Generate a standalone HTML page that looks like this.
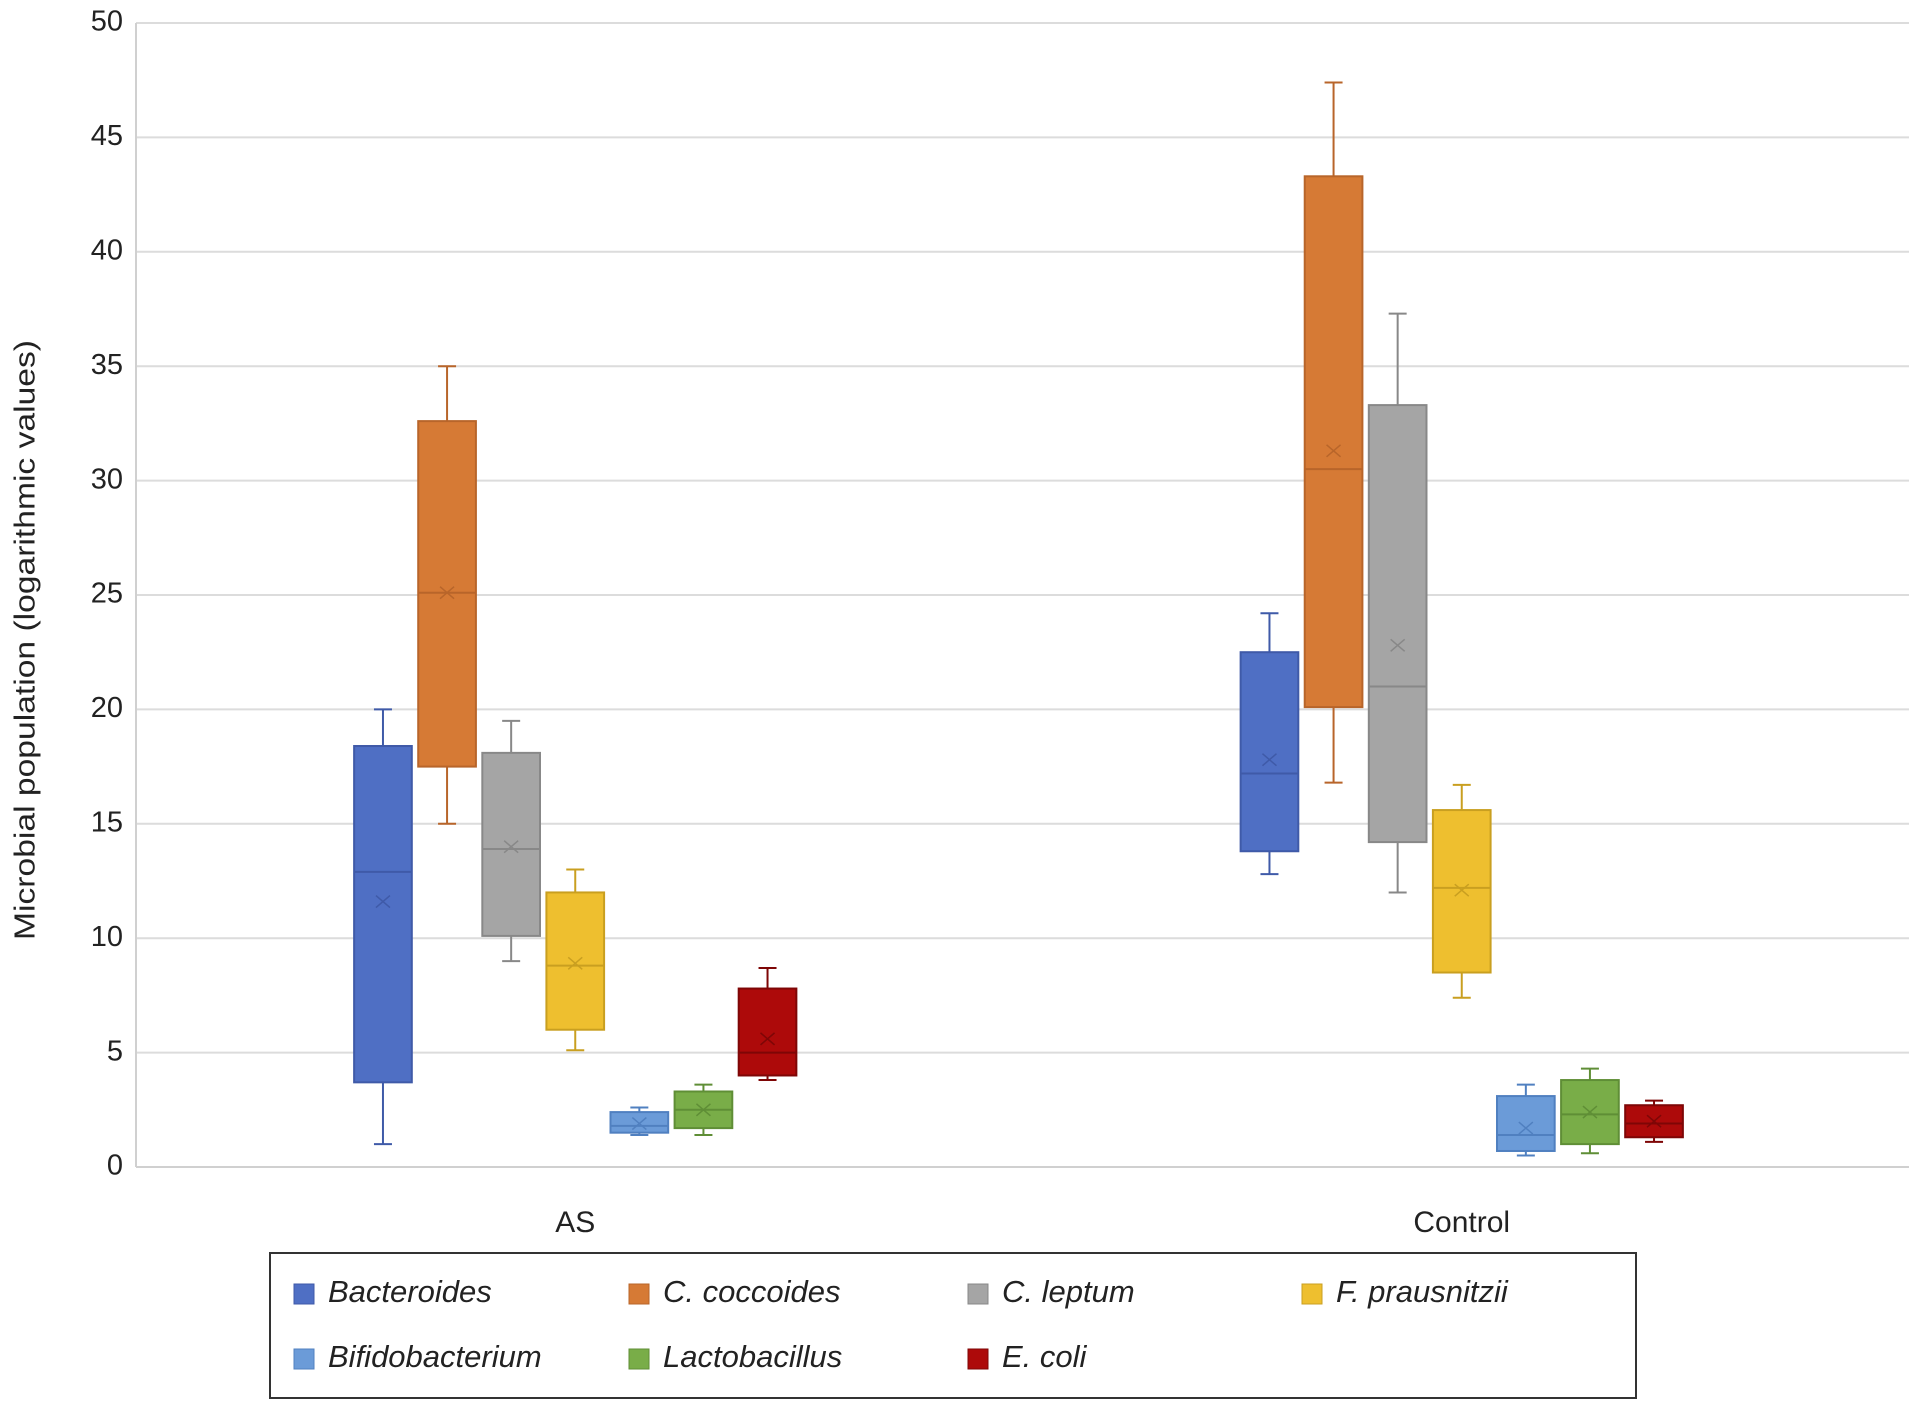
<!DOCTYPE html>
<html><head><meta charset="utf-8"><style>
html,body{margin:0;padding:0;background:#fff;}
svg{display:block;font-family:"Liberation Sans",Arial,sans-serif;}
</style></head><body>
<svg id="chart" width="1913" height="1406" viewBox="0 0 1913 1406">
<g id="grid"></g>
<g id="yticks"></g>
<text x="27" y="640" transform="rotate(-90 27 640)" text-anchor="middle" dominant-baseline="middle" font-size="29" fill="#222" textLength="600" lengthAdjust="spacingAndGlyphs">Microbial population (logarithmic values)</text>
<g id="xlabels"></g>
<g id="boxes"></g>
<g id="legend">
<rect x="270" y="1253" width="1366" height="145" fill="#fff" stroke="#333" stroke-width="2"/>
</g>
</svg>
<script>
const categories = ["AS", "Control"];
const seriesNames = ["Bacteroides","C. coccoides","C. leptum","F. prausnitzii","Bifidobacterium","Lactobacillus","E. coli"];
const seriesColors = ["#4f6fc4","#d67a35","#a5a5a5","#eebf2f","#6b9bd8","#79ad48","#ad0a0a"];
const seriesEdges = ["#3f5aa8","#b8652a","#888","#c99f20","#5080c0","#5f8e36","#7e0606"];
// [min, q1, median, q3, max, mean] for each series per category
const asValues = [
 [1.0,3.7,12.9,18.4,20.0,11.6],
 [15.0,17.5,25.1,32.6,35.0,25.1],
 [9.0,10.1,13.9,18.1,19.5,14.0],
 [5.1,6.0,8.8,12.0,13.0,8.9],
 [1.4,1.5,1.8,2.4,2.6,1.9],
 [1.4,1.7,2.5,3.3,3.6,2.5],
 [3.8,4.0,5.0,7.8,8.7,5.6]
];
const controlValues = [
 [12.8,13.8,17.2,22.5,24.2,17.8],
 [16.8,20.1,30.5,43.3,47.4,31.3],
 [12.0,14.2,21.0,33.3,37.3,22.8],
 [7.4,8.5,12.2,15.6,16.7,12.1],
 [0.5,0.7,1.4,3.1,3.6,1.7],
 [0.6,1.0,2.3,3.8,4.3,2.4],
 [1.1,1.3,1.9,2.7,2.9,2.0]
];
const yTicks = [0,5,10,15,20,25,30,35,40,45,50];

const NS="http://www.w3.org/2000/svg";
const L=136,R=1909,T=23,B=1167;
const y=v=>B-(v/50)*(B-T);
const band=(R-L)/categories.length;
const xc=i=>L+band*(i+0.5)-4;
const step=band*0.0723, bw=step*0.9;
function mk(tag,attrs,parent){const e=document.createElementNS(NS,tag);for(const k in attrs)e.setAttribute(k,attrs[k]);parent.appendChild(e);return e;}
const grid=document.getElementById('grid'),yt=document.getElementById('yticks');
yTicks.forEach(t=>{
 const l=mk('line',{x1:L,x2:R,y1:y(t),y2:y(t),stroke:t===0?'#d0d0d0':'#dcdcdc','stroke-width':2},grid);
 
 
 const tx=mk('text',{x:123,y:y(t),'text-anchor':'end','dominant-baseline':'middle','font-size':29,fill:'#222'},yt);
 tx.textContent=t;
 
 
});
mk('line',{x1:L,x2:L,y1:T,y2:B,stroke:'#d0d0d0','stroke-width':2},grid);
const xl=document.getElementById('xlabels');
categories.forEach((c,i)=>{
 const t=mk('text',{x:xc(i),y:1232,'text-anchor':'middle','font-size':30,fill:'#222'},xl);
 t.textContent=c;
 
 
});
const bx=document.getElementById('boxes');
[asValues,controlValues].forEach((vals,ci)=>{
 vals.forEach((d,si)=>{
  const cx=xc(ci)+(si-3)*step;
  const g=mk('g',{},bx);
  
  
  const ec=seriesEdges[si],w=2;
  mk('line',{x1:cx,x2:cx,y1:y(d[0]),y2:y(d[1]),stroke:ec,'stroke-width':w},g);
  mk('line',{x1:cx,x2:cx,y1:y(d[3]),y2:y(d[4]),stroke:ec,'stroke-width':w},g);
  mk('line',{x1:cx-9,x2:cx+9,y1:y(d[0]),y2:y(d[0]),stroke:ec,'stroke-width':w},g);
  mk('line',{x1:cx-9,x2:cx+9,y1:y(d[4]),y2:y(d[4]),stroke:ec,'stroke-width':w},g);
  mk('rect',{x:cx-bw/2,y:y(d[3]),width:bw,height:y(d[1])-y(d[3]),fill:seriesColors[si],stroke:ec,'stroke-width':w},g);
  mk('line',{x1:cx-bw/2,x2:cx+bw/2,y1:y(d[2]),y2:y(d[2]),stroke:ec,'stroke-width':w},g);
  const my=y(d[5]);
  mk('path',{d:`M${cx-7},${my-6}L${cx+7},${my+6}M${cx-7},${my+6}L${cx+7},${my-6}`,stroke:ec,'stroke-width':1.5,fill:'none'},g);
 });
});
const lg=document.getElementById('legend');
const lx=[294,629,968,1302], ly=[1294,1359];
seriesNames.forEach((n,i)=>{
 const r=Math.floor(i/4),c=i%4;
 const g=mk('g',{},lg);
 
 
 mk('rect',{x:lx[c],y:ly[r]-10,width:20,height:20,fill:seriesColors[i],stroke:seriesEdges[i]},g);
 const t=mk('text',{x:lx[c]+34,y:ly[r],'dominant-baseline':'middle','font-size':31,'font-style':'italic',fill:'#222'},g);
 t.textContent=n;
});
</script>
</body></html>
